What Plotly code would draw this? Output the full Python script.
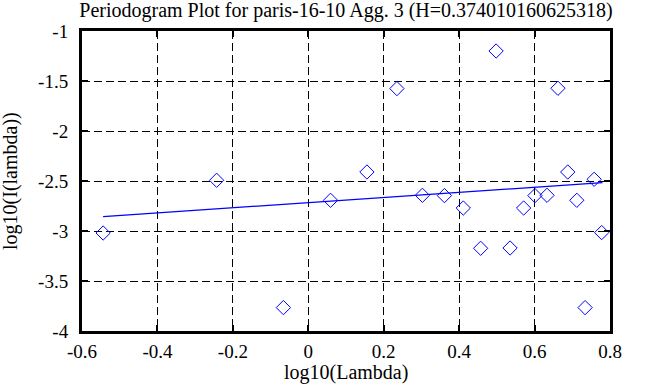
import plotly.graph_objects as go

# Periodogram points (log10 lambda, log10 I(lambda))
log_lambda = [-0.544, -0.243, -0.066, 0.059, 0.1555, 0.235, 0.3026, 0.361, 0.411,
              0.457, 0.498, 0.535, 0.571, 0.601, 0.633, 0.662, 0.688, 0.712,
              0.734, 0.758, 0.778]
log_I = [-3.02, -2.493, -3.766, -2.693, -2.41, -1.576, -2.643, -2.646, -2.77,
         -3.173, -1.2, -3.17, -2.77, -2.646, -2.643, -1.573, -2.41, -2.693,
         -3.766, -2.483, -3.016]

# Fitted line endpoints
fit_x = [-0.544, 0.780]
fit_y = [-2.856, -2.516]

x_tickvals = [-0.6, -0.4, -0.2, 0, 0.2, 0.4, 0.6, 0.8]
x_ticktext = ["-0.6", "-0.4", "-0.2", "0", "0.2", "0.4", "0.6", "0.8"]
y_tickvals = [-4, -3.5, -3, -2.5, -2, -1.5, -1]
y_ticktext = ["-4", "-3.5", "-3", "-2.5", "-2", "-1.5", "-1"]

title_text = "Periodogram Plot for paris-16-10 Agg. 3 (H=0.374010160625318)"
x_title = "log10(Lambda)"
y_title = "log10(I(lambda))"

FONT = "Liberation Serif"

fig = go.Figure()
fig.add_trace(go.Scatter(
    x=log_lambda, y=log_I, mode="markers",
    marker=dict(symbol="diamond-open", size=11, color="#0000ff", line=dict(width=1, color="#0000ff")),
    showlegend=False, hoverinfo="skip"))
fig.add_trace(go.Scatter(
    x=fit_x, y=fit_y, mode="lines",
    line=dict(color="#0000ff", width=1.3),
    showlegend=False, hoverinfo="skip"))

axis_common = dict(
    showline=True, linecolor="black", linewidth=3, mirror="ticks",
    ticks="inside", ticklen=6, tickwidth=2, tickcolor="black",
    showgrid=True, gridcolor="black", gridwidth=1, griddash="8px,4px",
    zeroline=False, automargin=False,
    tickfont=dict(family=FONT, size=19, color="black"),
)

fig.update_layout(
    width=658, height=387,
    margin=dict(l=82, r=48, t=31, b=56),
    paper_bgcolor="white", plot_bgcolor="white",
    title=dict(text=title_text, x=0.5, xref="paper", xanchor="center",
               y=1 - 9.5 / 387, yref="container", yanchor="middle", pad=dict(t=0, b=0),
               font=dict(family=FONT, size=20, color="black")),
    xaxis=dict(range=[-0.6, 0.8], tickvals=x_tickvals, ticktext=x_ticktext,
               ticklabelstandoff=1, **axis_common),
    yaxis=dict(range=[-4, -1], tickvals=y_tickvals, ticktext=y_ticktext,
               ticklabelstandoff=7, **axis_common),
    annotations=[
        dict(text=x_title, xref="paper", yref="paper", x=0.5, y=0, yshift=-41,
             xanchor="center", yanchor="middle", showarrow=False,
             font=dict(family=FONT, size=20, color="black")),
        dict(text=y_title, xref="paper", yref="paper", x=0, y=0.5, xshift=-72,
             xanchor="center", yanchor="middle", textangle=-90, showarrow=False,
             font=dict(family=FONT, size=20, color="black")),
    ],
)

fig.write_html("out.html", config={"displayModeBar": False},
               post_script="document.body.style.margin='0px';")
